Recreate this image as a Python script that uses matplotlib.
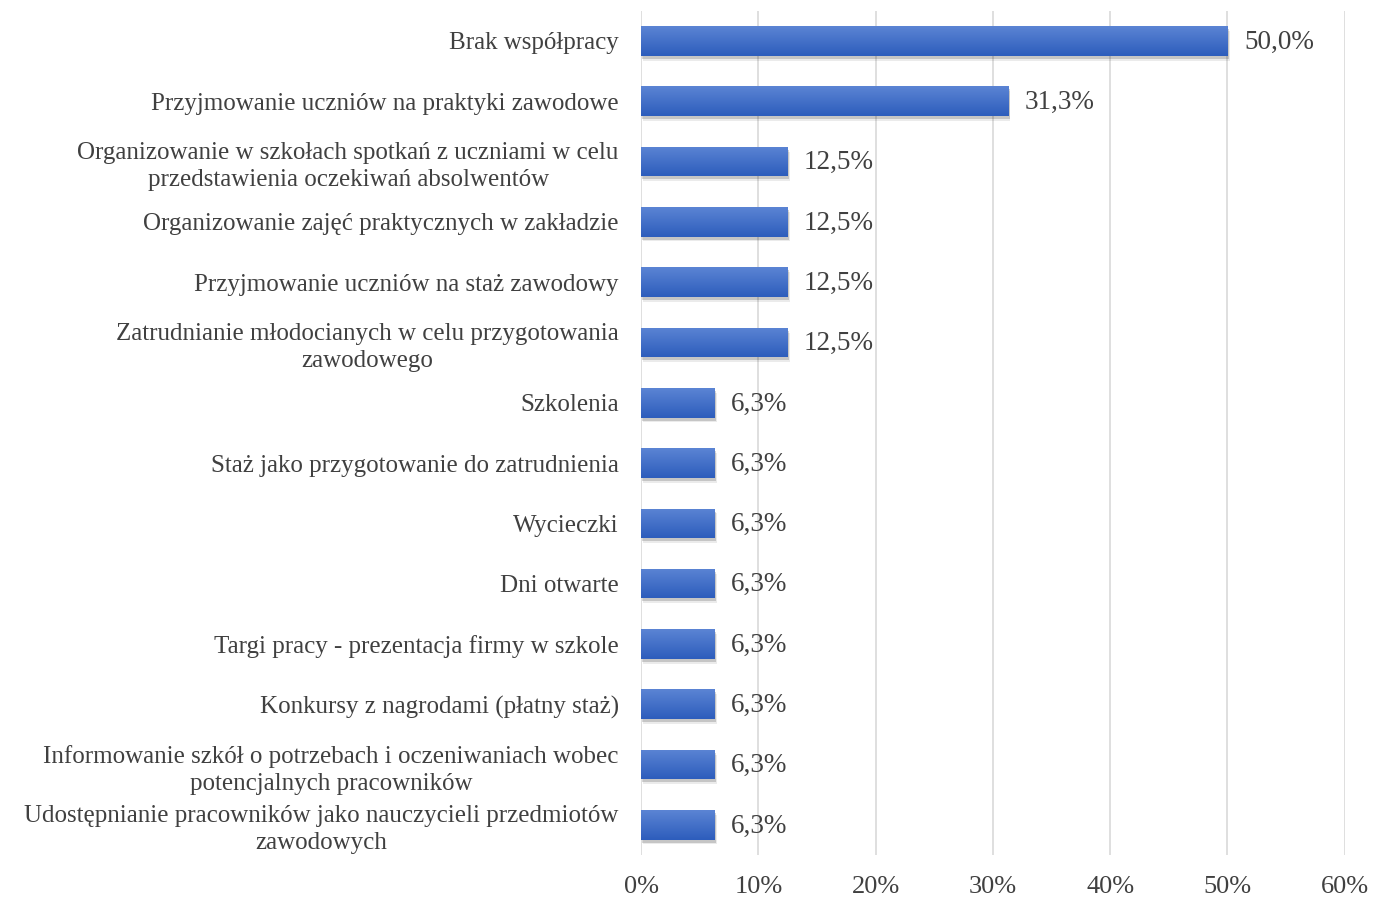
import matplotlib.pyplot as plt
import matplotlib.colors as mcolors
import numpy as np

# dane
kategorie = [
    "Brak współpracy",
    "Przyjmowanie uczniów na praktyki zawodowe",
    "Organizowanie w szkołach spotkań z uczniami w celu\nprzedstawienia oczekiwań absolwentów",
    "Organizowanie zajęć praktycznych w zakładzie",
    "Przyjmowanie uczniów na staż zawodowy",
    "Zatrudnianie młodocianych w celu przygotowania\nzawodowego",
    "Szkolenia",
    "Staż jako przygotowanie do zatrudnienia",
    "Wycieczki",
    "Dni otwarte",
    "Targi pracy - prezentacja firmy w szkole",
    "Konkursy z nagrodami (płatny staż)",
    "Informowanie szkół o potrzebach i oczeniwaniach wobec\npotencjalnych pracowników",
    "Udostępnianie pracowników jako nauczycieli przedmiotów\nzawodowych",
]
wartosci = [50.0, 31.3, 12.5, 12.5, 12.5, 12.5, 6.3, 6.3, 6.3, 6.3, 6.3, 6.3, 6.3, 6.3]
ticki = [0, 10, 20, 30, 40, 50, 60]

plt.rcParams['font.family'] = ['Liberation Serif', 'DejaVu Serif']
szary = '#404040'

fig = plt.figure(figsize=(13.75, 9), dpi=100)
ax = fig.add_axes([0.4662, 0.05, 0.978 - 0.4662, 0.938])

y = np.arange(len(kategorie))
h = 0.49
grad = mcolors.LinearSegmentedColormap.from_list('g', ['#5b84d4', '#2d5dbc'])
gimg = np.linspace(0, 1, 64).reshape(-1, 1)

# cien
ax.barh(y + 0.05, wartosci, height=h, left=0.12, color='#000000', alpha=0.16, zorder=2)
ax.barh(y + 0.08, wartosci, height=h, left=0.2, color='#000000', alpha=0.08, zorder=2)
bars = ax.barh(y, wartosci, height=h, color='#3f6fcb', zorder=3)
for b in bars:
    x0, y0 = b.get_x(), b.get_y()
    w, hh = b.get_width(), b.get_height()
    im = ax.imshow(gimg, cmap=grad, aspect='auto', origin='upper',
                   extent=[x0, x0 + w, y0 + hh, y0], zorder=4)
    im.set_clip_path(b)

for yi, v in zip(y, wartosci):
    ax.text(v + 1.4, yi + 0.02, f"{v:.1f}%".replace('.', ','), va='center', ha='left',
            fontsize=19.5, color=szary, zorder=5)

ax.set_ylim(len(kategorie) - 0.5, -0.5)
ax.set_xlim(0, 60)
ax.set_xticks(ticki)
ax.set_xticklabels([f"{t}%" for t in ticki], fontsize=19, color=szary)
ax.set_yticks(y)
ax.set_yticklabels(kategorie, fontsize=18, color=szary, linespacing=1.3)
for lab in ax.get_yticklabels():
    lab.set_multialignment('center')
ax.tick_params(axis='both', length=0)
ax.tick_params(axis='x', pad=15)
ax.tick_params(axis='y', pad=16)
ax.grid(axis='x', color='#d9d9d9', linewidth=1.2, zorder=0)
ax.set_axisbelow(True)
for s in ax.spines.values():
    s.set_visible(False)

fig.savefig('out.png', dpi=100)
